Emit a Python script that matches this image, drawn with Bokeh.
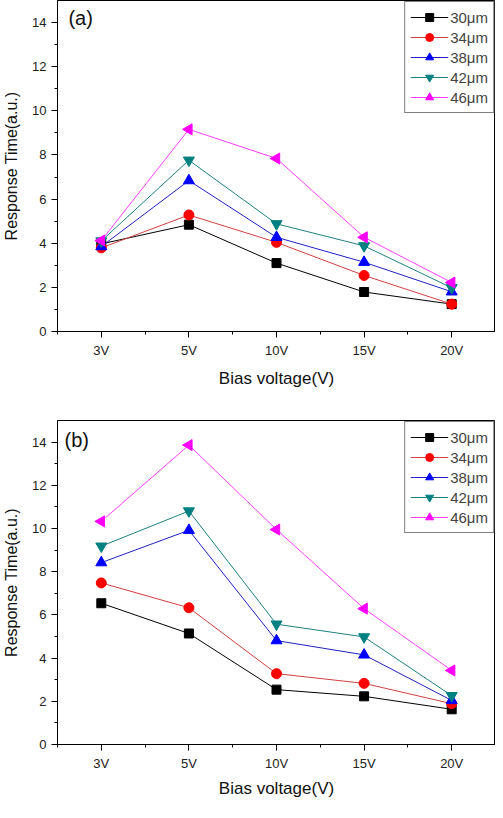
import numpy as np
from bokeh.plotting import figure
from bokeh.layouts import column
from bokeh.models import FixedTicker, Label, Legend
from bokeh.embed import file_html
from bokeh.resources import INLINE

categories = ["3V", "5V", "10V", "15V", "20V"]
series_names = ["30\u03bcm", "34\u03bcm", "38\u03bcm", "42\u03bcm", "46\u03bcm"]

a_30 = [3.97, 4.84, 3.10, 1.79, 1.24]
a_34 = [3.79, 5.28, 4.04, 2.54, 1.24]
a_38 = [3.85, 6.84, 4.27, 3.14, 1.80]
a_42 = [4.10, 7.76, 4.88, 3.88, 1.98]
a_46 = [4.12, 9.16, 7.84, 4.27, 2.22]

b_30 = [6.54, 5.14, 2.54, 2.23, 1.63]
b_34 = [7.48, 6.33, 3.28, 2.83, 1.89]
b_38 = [8.42, 9.92, 4.81, 4.15, 2.04]
b_42 = [9.18, 10.81, 5.57, 4.98, 2.26]
b_46 = [10.33, 13.86, 9.95, 6.29, 3.43]

colors = ["#000000", "#ff0000", "#0000ff", "#008080", "#ff00ff"]
markers = ["square", "circle", "triangle", "inverted_triangle", "triangle"]
angles = [0, 0, 0, 0, np.pi / 2]
sizes = [9, 10, 11, 11, 11]
line_colors = ["#000000", "#d04040", "#2020c0", "#208080", "#ff40ff"]

FONT = "Liberation Sans"


def make_panel(data, tag, height, top, bottom, tag_x, tag_y, title_standoff):
    x = list(range(len(categories)))
    p = figure(width=495, height=height, output_backend="svg", toolbar_location=None,
               x_range=(-0.5, 4.5), y_range=(0, 15),
               min_border_left=53, min_border_right=0,
               min_border_top=top, min_border_bottom=bottom)
    p.xgrid.visible = False
    p.ygrid.visible = False
    p.outline_line_color = "black"
    p.outline_line_width = 1
    p.outline_line_alpha = 1

    items = []
    for i, ys in enumerate(data):
        r1 = p.line(x, ys, line_color=line_colors[i], line_width=1)
        r2 = p.scatter(x, ys, marker=markers[i], size=sizes[i], angle=angles[i],
                       fill_color=colors[i], line_color=colors[i])
        items.append((series_names[i], [r1, r2]))

    legend = Legend(items=items, location="top_right")
    legend.label_text_font = FONT
    legend.label_text_font_size = "15px"
    legend.glyph_width = 38
    legend.glyph_height = 20
    legend.label_height = 20
    legend.label_standoff = 2
    legend.spacing = 0
    legend.padding = 5
    legend.margin = 1
    legend.border_line_color = "black"
    legend.border_line_width = 1
    legend.background_fill_alpha = 1
    p.add_layout(legend)

    p.xaxis.ticker = FixedTicker(ticks=x, minor_ticks=[v + 0.5 for v in range(-1, 5)])
    p.xaxis.major_label_overrides = {i: c for i, c in enumerate(categories)}
    p.yaxis.ticker = FixedTicker(ticks=list(range(0, 15, 2)), minor_ticks=list(range(1, 15, 2)))

    for ax in (p.xaxis[0], p.yaxis[0]):
        ax.axis_line_color = "black"
        ax.major_tick_line_color = "black"
        ax.minor_tick_line_color = "black"
        ax.major_tick_in = 0
        ax.major_tick_out = 6
        ax.minor_tick_in = 0
        ax.minor_tick_out = 3
        ax.major_label_text_font = FONT
        ax.major_label_text_font_size = "13px"
        ax.major_label_text_color = "#222222"
        ax.axis_label_text_font = FONT
        ax.axis_label_text_font_size = "17px"
        ax.axis_label_text_font_style = "normal"
        ax.axis_label_text_color = "#111111"
        ax.major_label_standoff = 5
        ax.axis_label_standoff = 9

    p.xaxis.axis_label = "Bias voltage(V)"
    p.xaxis.axis_label_standoff = title_standoff
    p.yaxis.axis_label = "Response Time(a.u.)"
    p.yaxis.axis_label_text_font_size = "16px"

    p.add_layout(Label(x=tag_x, y=tag_y, text=tag, text_font=FONT, text_font_size="20px",
                       text_baseline="middle", text_color="#111111"))
    return p


p1 = make_panel([a_30, a_34, a_38, a_42, a_46], "(a)", 390, 0, 56, -0.375, 14.2, 8)
p2 = make_panel([b_30, b_34, b_38, b_42, b_46], "(b)", 410, 30, 46, -0.42, 14.1, 5)

layout = column(p1, p2, spacing=0)
open("out.html", "w").write(file_html(layout, INLINE))
